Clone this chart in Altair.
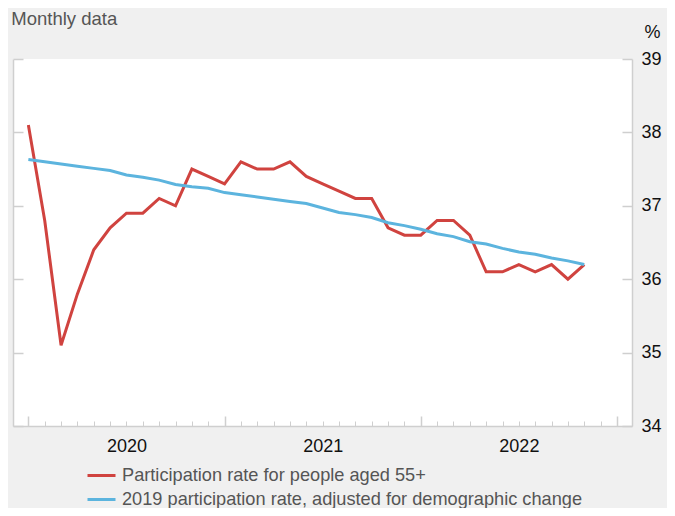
import altair as alt
import pandas as pd

# ---- data ----
months = [f"{y}-{m:02d}" for y in (2020, 2021, 2022) for m in range(1, 13)][:35]

red_series = [38.1, 36.8, 35.1, 35.8, 36.4, 36.7, 36.9, 36.9, 37.1, 37.0,
              37.5, 37.4, 37.3, 37.6, 37.5, 37.5, 37.6, 37.4, 37.3, 37.2,
              37.1, 37.1, 36.7, 36.6, 36.6, 36.8, 36.8, 36.6, 36.1, 36.1,
              36.2, 36.1, 36.2, 36.0, 36.2]

blue_series = [37.63, 37.60, 37.57, 37.54, 37.51, 37.48, 37.42, 37.39, 37.35, 37.29,
               37.26, 37.24, 37.18, 37.15, 37.12, 37.09, 37.06, 37.03, 36.97, 36.91,
               36.88, 36.84, 36.77, 36.73, 36.68, 36.62, 36.58, 36.51, 36.48, 36.42,
               36.37, 36.34, 36.29, 36.25, 36.20]

series_names = ["Participation rate for people aged 55+",
                "2019 participation rate, adjusted for demographic change"]
series_colors = ["#d0433f", "#5cb4de"]
year_labels = ["2020", "2021", "2022"]
y_ticks = [34, 35, 36, 37, 38, 39]

rows = []
for name, vals in zip(series_names, [red_series, blue_series]):
    for i, (m, v) in enumerate(zip(months, vals)):
        rows.append({"month": m, "idx": i, "value": v, "series": name})
df = pd.DataFrame(rows)

# ---- layout ----
W, H = 619, 367
FONT = "Liberation Sans"
LINE = "#cfcfcf"

xscale = alt.Scale(domain=[-0.94, 36.92], nice=False, zero=False)
yscale = alt.Scale(domain=[34, 39], nice=False, zero=False)

label_expr = "[" + ",".join(f"'{y}'" for y in year_labels) + "][round((datum.value - 6) / 12)]"
minor_ticks = list(range(0, 37))
major_ticks = [0, 12, 24, 36]
label_pos = [6, 18, 30]

main = alt.Chart(df).mark_line(strokeWidth=3).encode(
    x=alt.X("idx:Q", scale=xscale,
            axis=alt.Axis(orient="bottom", values=label_pos, labelExpr=label_expr,
                          ticks=False, domain=True, domainColor=LINE, domainWidth=1.5,
                          grid=False, labelFontSize=18, labelFont=FONT, labelColor="#111",
                          labelPadding=11, labelFlush=False, labelOverlap=False, title=None)),
    y=alt.Y("value:Q", scale=yscale,
            axis=alt.Axis(orient="right", values=y_ticks, ticks=False, domain=False,
                          grid=False, labelFontSize=18, labelFont=FONT, labelColor="#111",
                          labelPadding=9, labelBaseline="middle", labelFlush=False,
                          labelOverlap=False, title="%", titleAngle=0, titleAlign="right",
                          titleBaseline="alphabetic", titleX=28, titleY=-22,
                          titleFont=FONT, titleFontSize=18, titleFontWeight="normal",
                          titleColor="#111")),
    color=alt.Color("series:N",
                    scale=alt.Scale(domain=series_names, range=series_colors),
                    legend=alt.Legend(orient="none", legendX=73, legendY=401,
                                      direction="vertical", title=None,
                                      symbolType="stroke", symbolSize=784,
                                      symbolStrokeWidth=3, labelFontSize=18.2,
                                      labelFont=FONT, labelColor="#555",
                                      labelOffset=5, rowPadding=-7.7, padding=0,
                                      labelLimit=700)),
    detail="series:N",
)

minor = alt.Chart(df).mark_line(opacity=0).encode(
    x=alt.X("idx:Q", scale=xscale,
            axis=alt.Axis(orient="top", offset=-H, values=minor_ticks, tickSize=5,
                          tickColor=LINE, tickWidth=1, labels=False, domain=False,
                          grid=False, title=None)),
    y=alt.Y("value:Q", scale=yscale,
            axis=alt.Axis(orient="right", offset=-W, values=y_ticks, tickSize=10,
                          tickColor=LINE, tickWidth=1.5, labels=False, domain=True,
                          domainColor=LINE, domainWidth=1.5, grid=False, title=None)),
    detail="series:N",
)

major = alt.Chart(df).mark_line(opacity=0).encode(
    x=alt.X("idx:Q", scale=xscale,
            axis=alt.Axis(orient="top", offset=-H, values=major_ticks, tickSize=10,
                          tickColor=LINE, tickWidth=1.5, labels=False, domain=False,
                          grid=False, title=None)),
    y=alt.Y("value:Q", scale=yscale,
            axis=alt.Axis(orient="left", offset=-W, values=y_ticks, tickSize=10,
                          tickColor=LINE, tickWidth=1.5, labels=False, domain=True,
                          domainColor=LINE, domainWidth=1.5, grid=False, title=None)),
    detail="series:N",
)

chart = alt.layer(minor, major, main).resolve_axis(
    x="independent", y="independent"
).properties(
    width=W, height=H,
    title=alt.Title("Monthly data", anchor="start", font=FONT, fontSize=18.5,
                    fontWeight="normal", color="#555", baseline="alphabetic",
                    offset=2, dx=-1, dy=22),
    background="#f0f0f0",
    padding={"left": 5, "top": 51, "right": 35, "bottom": 82},
    autosize=alt.AutoSizeParams(type="none"),
).configure_view(stroke=None, fill="white")

chart.save("out.html", embed_options={"renderer": "svg", "actions": False})
